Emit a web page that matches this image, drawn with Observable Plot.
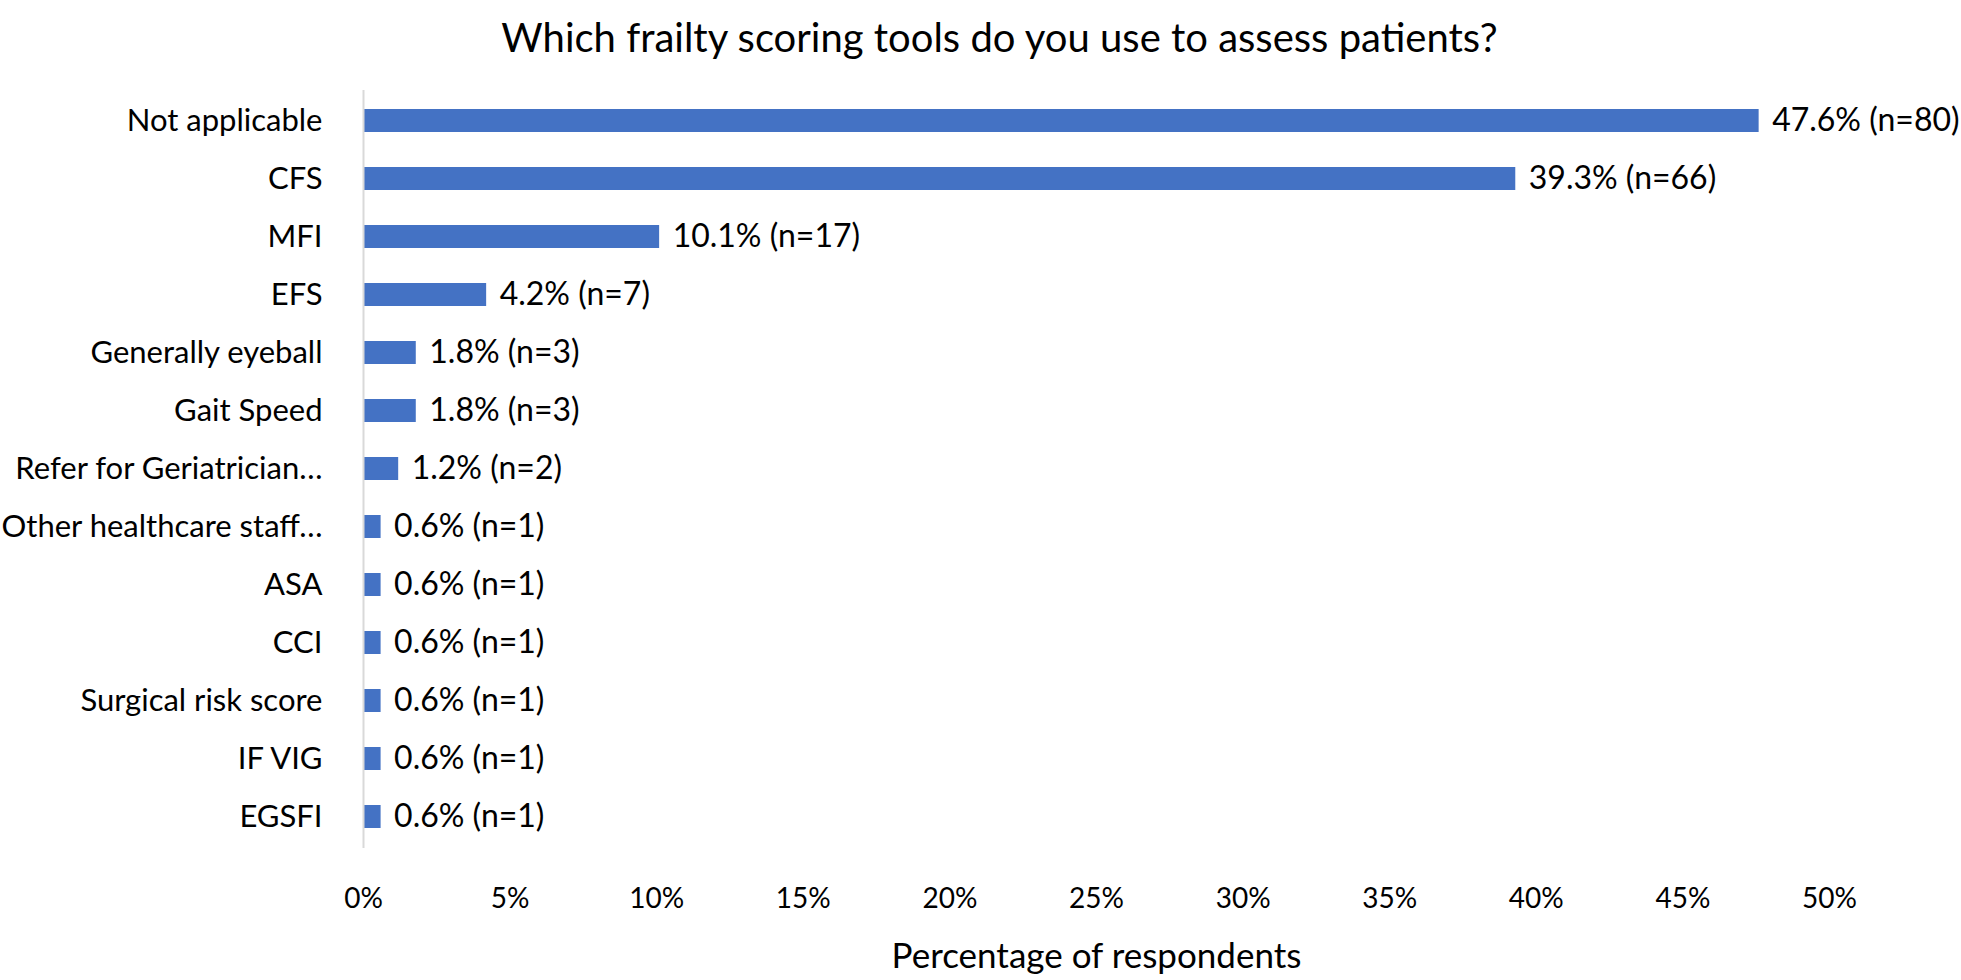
<!DOCTYPE html>
<html>
<head>
<meta charset="utf-8">
<script src="https://cdn.jsdelivr.net/npm/d3@7"></script>
<script src="https://cdn.jsdelivr.net/npm/@observablehq/plot@0.6"></script>
<style>
  html, body { margin: 0; padding: 0; background: #fff; }
  #title { height: 60px; line-height: 74px; padding-left: 38px; text-align: center; font-family: Lato, "Open Sans", sans-serif; font-size: 40px; color: #000; white-space: nowrap; }
  svg { display: block; }
</style>
</head>
<body>
<div id="title">Which frailty scoring tools do you use to assess patients?</div>
<div id="chart"></div>
<script>
const categories = ["Not applicable", "CFS", "MFI", "EFS", "Generally eyeball", "Gait Speed", "Refer for Geriatrician…", "Other healthcare staff…", "ASA", "CCI", "Surgical risk score", "IF VIG", "EGSFI"];
const percents = [47.6, 39.3, 10.1, 4.2, 1.8, 1.8, 1.2, 0.6, 0.6, 0.6, 0.6, 0.6, 0.6];
const counts = [80, 66, 17, 7, 3, 3, 2, 1, 1, 1, 1, 1, 1];
const xTicks = [0, 5, 10, 15, 20, 25, 30, 35, 40, 45, 50];
const xLabel = "Percentage of respondents";

const data = categories.map((c, i) => ({category: c, pct: percents[i], n: counts[i], label: `${percents[i].toFixed(1)}% (n=${counts[i]})`}));

const chart = Plot.plot({
  width: 1961,
  height: 920,
  marginTop: 30,
  marginBottom: 132,
  marginLeft: 363,
  marginRight: 132,
  style: {fontFamily: "Lato, 'Open Sans', sans-serif", fontSize: "30px", color: "#000", background: "#fff", overflow: "visible"},
  x: {domain: [0, 50], ticks: xTicks, tickFormat: d => d + "%", label: null},
  y: {domain: categories, paddingInner: 0.6, paddingOuter: 0.3, label: null},
  marks: [
    Plot.barX(data, {x: "pct", y: "category", fill: "#4472C4"}),
    Plot.ruleX([0], {stroke: "#d9d9d9", strokeWidth: 2}),
    Plot.text(data, {x: "pct", y: "category", text: "label", textAnchor: "start", dx: 13, fontSize: 32, fill: "#000"}),
    Plot.axisX({ticks: xTicks, tickFormat: d => d + "%", tickSize: 0, tickPadding: 40, fontSize: 28, label: null}),
    Plot.axisY({tickSize: 0, tickPadding: 41, fontSize: 31, label: null}),
    Plot.text([xLabel], {frameAnchor: "bottom", lineAnchor: "middle", dy: 108, fontSize: 35, fill: "#000"})
  ]
});
document.getElementById("chart").appendChild(chart);
</script>
</body>
</html>
